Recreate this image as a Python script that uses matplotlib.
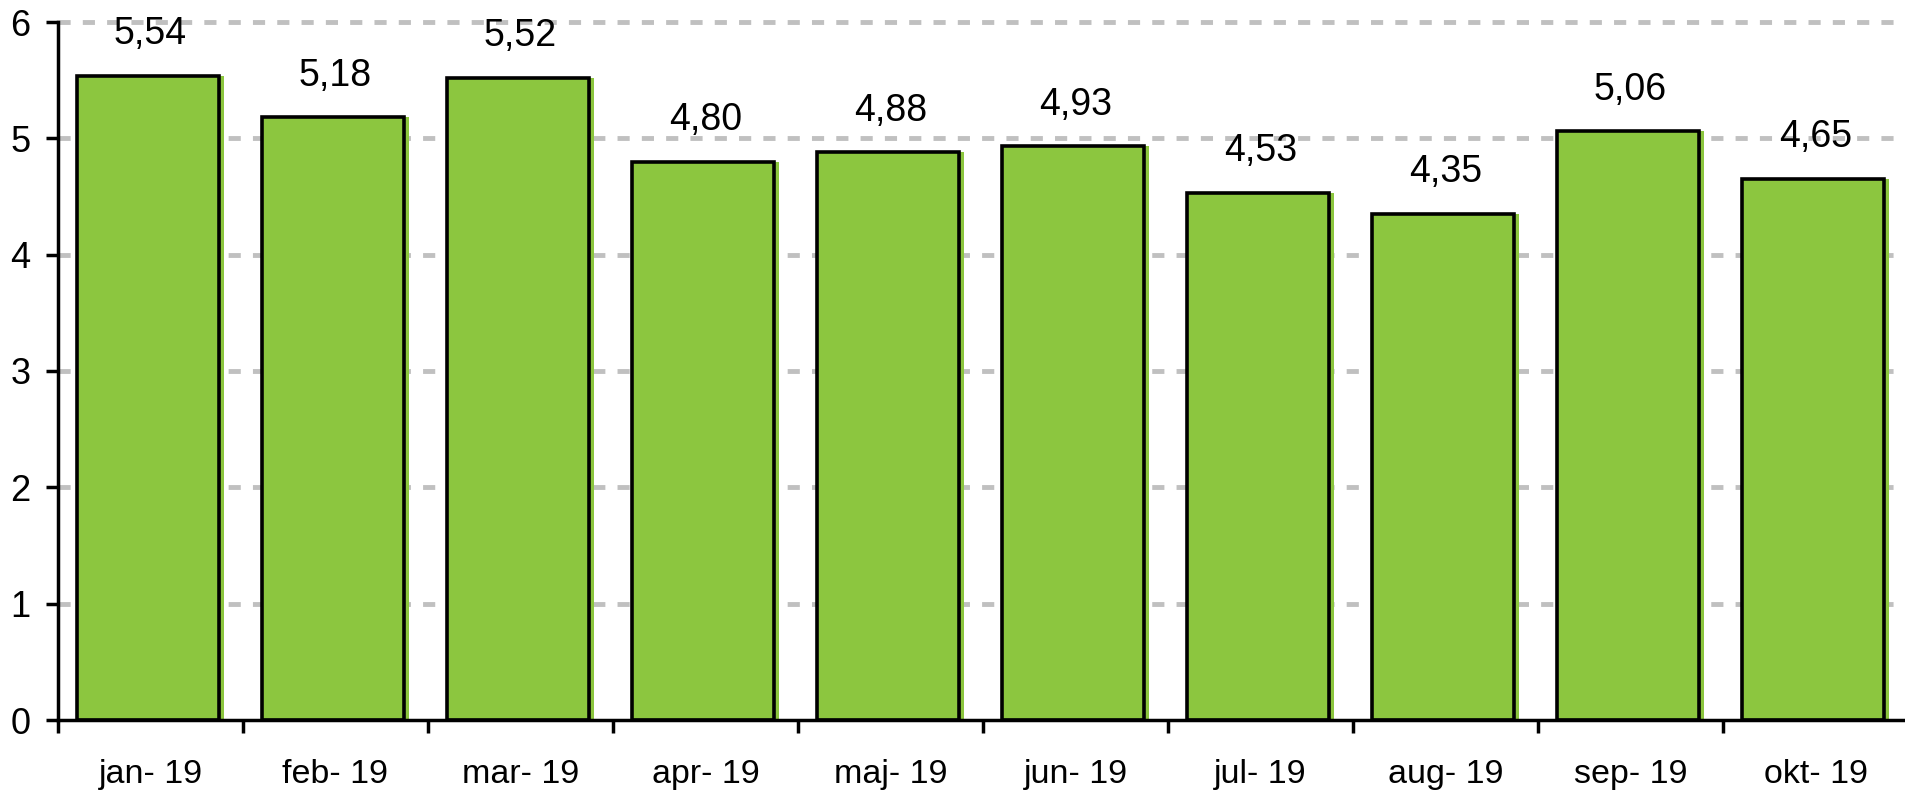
import numpy as np
import matplotlib.pyplot as plt

plt.rcParams['font.family'] = ['Liberation Sans', 'DejaVu Sans']

months = ["jan- 19", "feb- 19", "mar- 19", "apr- 19", "maj- 19",
          "jun- 19", "jul- 19", "aug- 19", "sep- 19", "okt- 19"]
values = [5.54, 5.18, 5.52, 4.80, 4.88, 4.93, 4.53, 4.35, 5.06, 4.65]
yticks = [0, 1, 2, 3, 4, 5, 6]

green = "#8CC63F"

fig = plt.figure(figsize=(19.05, 7.92), dpi=100)
ax = fig.add_axes([58 / 1905, 1 - 720 / 792, 1850 / 1905, 698 / 792])

x = np.arange(len(months))
ax.bar(x, values, width=0.795, color=green, linewidth=0, zorder=2)
ax.bar(x - 0.013, values, width=0.77, color=green, edgecolor="black",
       linewidth=2.6, zorder=3)

for xi, v in zip(x, values):
    ax.annotate(f"{v:.2f}".replace(".", ","), (xi, v), xytext=(0, 30),
                textcoords="offset points", ha="center", va="center",
                fontsize=27, color="black")

ax.set_xlim(-0.5, len(months) - 0.5)
ax.set_ylim(0, 6)
ax.set_yticks(yticks)
ax.set_yticklabels([str(t) for t in yticks], fontsize=26)
ax.set_xticks(x)
ax.set_xticklabels(months, fontsize=24.5)
ax.set_xticks(np.arange(-0.5, len(months), 1), minor=True)
ax.tick_params(axis="x", which="major", length=0, pad=28)
ax.tick_params(axis="x", which="minor", length=9, width=2.5, direction="out")
ax.tick_params(axis="y", length=9, width=2.5, pad=11)

for g in yticks[1:]:
    ax.axhline(g, color="#c0c0c0", linewidth=3.5, linestyle=(0, (2.5, 2.5)),
               zorder=1, clip_on=False)

for s in ["top", "right"]:
    ax.spines[s].set_visible(False)
for s in ["left", "bottom"]:
    ax.spines[s].set_linewidth(2.5)
    ax.spines[s].set_zorder(4)

fig.savefig("out.png", dpi=100)
